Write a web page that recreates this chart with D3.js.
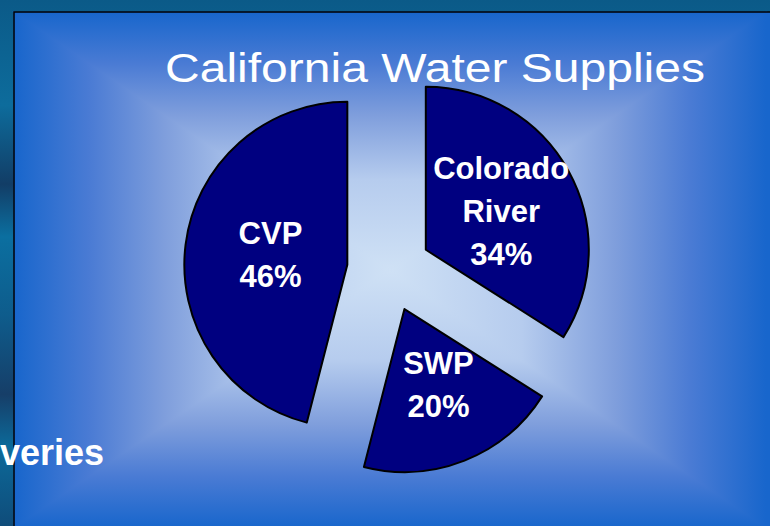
<!DOCTYPE html>
<html>
<head>
<meta charset="utf-8">
<script src="https://cdn.jsdelivr.net/npm/d3@7"></script>
<style>
  body { margin: 0; padding: 0; overflow: hidden; background: #0c5f8f; }
  svg { display: block; }
</style>
</head>
<body>
<div class="slide"></div>
<script>

// data
var sources = ["Colorado River", "SWP", "CVP"];
var shares = [34, 20, 46];
var title = "California Water Supplies";
var sideText = "veries";

var width = 770, height = 526;

var svg = d3.select(".slide")
  .append("svg")
    .attr("width", width)
    .attr("height", height);

var defs = svg.append("defs");

// dark textured backdrop outside the slide panel
var back = defs.append("linearGradient")
    .attr("id", "backdrop")
    .attr("x1", 0).attr("y1", 0).attr("x2", 0).attr("y2", 1);
[["0", "#0b5a88"], ["0.2", "#0d6c9c"], ["0.35", "#123d66"], ["0.45", "#0b6fa0"],
 ["0.6", "#0e5c8c"], ["0.75", "#163e68"], ["0.85", "#0c6a9a"], ["1", "#0f4c7a"]]
  .forEach(function (s) {
    back.append("stop").attr("offset", s[0]).attr("stop-color", s[1]);
  });

svg.append("rect")
    .attr("width", width)
    .attr("height", height)
    .attr("fill", "url(#backdrop)");

// panel with a "from center" rectangular gradient
var px0 = 14, py0 = 12, px1 = 766, py1 = 528, pcx = 390, pcy = 270;
var stops = [["0", "#cfe1f5"], ["0.35", "#b6ccee"], ["0.6", "#7f9edc"], ["0.8", "#4a7bd4"], ["1", "#1866cc"]];

function grad(id, x1, y1, x2, y2) {
  var g = defs.append("linearGradient")
      .attr("id", id)
      .attr("gradientUnits", "userSpaceOnUse")
      .attr("x1", x1).attr("y1", y1).attr("x2", x2).attr("y2", y2);
  stops.forEach(function (s) {
    g.append("stop").attr("offset", s[0]).attr("stop-color", s[1]);
  });
}
grad("gTop", pcx, pcy, pcx, py0);
grad("gBottom", pcx, pcy, pcx, py1);
grad("gLeft", pcx, pcy, px0, pcy);
grad("gRight", pcx, pcy, px1, pcy);

svg.append("rect")
    .attr("x", px0).attr("y", py0)
    .attr("width", width - px0).attr("height", height - py0)
    .attr("fill", "#1866cc");

var tris = [
  ["gTop", [[px0, py0], [px1, py0], [pcx, pcy]]],
  ["gBottom", [[px0, py1], [px1, py1], [pcx, pcy]]],
  ["gLeft", [[px0, py0], [px0, py1], [pcx, pcy]]],
  ["gRight", [[px1, py0], [px1, py1], [pcx, pcy]]]
];
svg.selectAll(".tri")
  .data(tris)
  .enter()
  .append("path")
    .attr("class", "tri")
    .attr("d", function (d) { return "M" + d[1].join("L") + "Z"; })
    .attr("fill", function (d) { return "url(#" + d[0] + ")"; })
    .attr("stroke", function (d) { return "url(#" + d[0] + ")"; })
    .attr("stroke-width", 1.2);

// panel border (top and left edges show)
svg.append("path")
    .attr("d", "M" + px0 + "," + height + "V" + py0 + "H" + width)
    .attr("fill", "none")
    .attr("stroke", "#000")
    .attr("stroke-width", 1.5);

// title
svg.append("text")
    .attr("x", 435)
    .attr("y", 82)
    .attr("text-anchor", "middle")
    .attr("font-family", "Arial, 'Liberation Sans', sans-serif")
    .attr("font-size", "41px")
    .attr("textLength", 540)
    .attr("lengthAdjust", "spacingAndGlyphs")
    .attr("fill", "#fff")
    .text(title);

// exploded pie
var radius = 163, explode = 42;
var cx = 389, cy = 270;

var pie = d3.pie().sort(null).value(function (d) { return d.value; });
var arc = d3.arc().innerRadius(0).outerRadius(radius);

var data = sources.map(function (s, i) { return {name: s, value: shares[i]}; });
var slices = pie(data);

var g = svg.append("g")
    .attr("transform", "translate(" + cx + "," + cy + ")");

var slice = g.selectAll(".slice")
  .data(slices)
  .enter()
  .append("g")
    .attr("class", "slice")
    .attr("transform", function (d) {
      var a = (d.startAngle + d.endAngle) / 2;
      return "translate(" + (Math.sin(a) * explode) + "," + (-Math.cos(a) * explode) + ")";
    });

slice.append("path")
    .attr("d", arc)
    .attr("fill", "#000080")
    .attr("stroke", "#000")
    .attr("stroke-width", 2)
    .attr("stroke-linejoin", "round");

var lineGap = 43;
slice.each(function (d) {
  var lines = d.data.name.split(" ").concat([d.data.value + "%"]);
  var c = arc.centroid(d);
  var t = d3.select(this).append("text")
      .attr("text-anchor", "middle")
      .attr("font-family", "Arial, 'Liberation Sans', sans-serif")
      .attr("font-weight", "bold")
      .attr("font-size", "31px")
      .attr("fill", "#fff");
  lines.forEach(function (l, i) {
    t.append("tspan")
        .attr("x", c[0] + 4)
        .attr("y", c[1] + (i - (lines.length - 1) / 2) * lineGap + 11)
        .text(l);
  });
});

// leftover bold text running off the left edge
svg.append("text")
    .attr("x", 104)
    .attr("y", 465)
    .attr("text-anchor", "end")
    .attr("font-family", "Arial, 'Liberation Sans', sans-serif")
    .attr("font-weight", "bold")
    .attr("font-size", "36px")
    .attr("fill", "#fff")
    .text(sideText);

</script>
</body>
</html>
